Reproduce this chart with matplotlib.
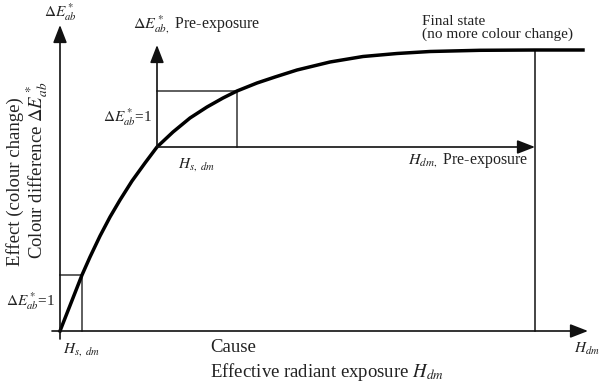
import matplotlib
matplotlib.use('Agg')
import matplotlib.pyplot as plt

plt.rcParams['font.family'] = ['Liberation Serif', 'DejaVu Serif']
plt.rcParams['mathtext.fontset'] = 'stix'

# curve (exposure vs colour difference, arbitrary units)
exposure = [0, 22, 30, 40, 50, 60, 72, 85, 97, 113, 130, 147, 163, 177, 197, 215, 237, 270, 303, 337, 370, 420, 475, 523]
colour_diff = [0, 56, 74, 95, 114, 131, 150, 168, 184, 199, 213, 224, 233, 240, 248, 254, 261, 269, 274.5, 277.5, 279.5, 280.7, 281, 281]

# first step (from unexposed state)
hs_step = 22
de_step = 56
# second step (after pre-exposure)
pre_x0, pre_y0 = 97, 184
pre_dx, pre_dy = 80, 56
# final state
final_x, final_y = 475, 281
# axis extents
x_end, y_end = 528, 306
pre_x_end, pre_y_end = 475, 286

ink = '#111111'
box = '#333333'

fig = plt.figure(figsize=(6, 3.89), dpi=100)
ax = fig.add_axes([0, 0, 1, 1])
ax.set_xlim(-60, 540)
ax.set_ylim(-58, 331)
ax.axis('off')


def arrow(x0, y0, x1, y1):
    ax.annotate('', xy=(x1, y1), xytext=(x0, y0),
                arrowprops=dict(arrowstyle='-|>,head_length=0.9,head_width=0.35',
                                color=ink, lw=1.2, shrinkA=0, shrinkB=0,
                                mutation_scale=12))


# main axes
arrow(-8, 0, x_end, 0)
arrow(0, -8, 0, y_end)
# pre-exposure axes
arrow(pre_x0, pre_y0, pre_x_end, pre_y0)
arrow(pre_x0, pre_y0, pre_x0, pre_y_end)

# step boxes
ax.plot([hs_step, hs_step, 0], [0, de_step, de_step], color=box, lw=1.1)
ax.plot([pre_x0 + pre_dx, pre_x0 + pre_dx, pre_x0], [pre_y0, pre_y0 + pre_dy, pre_y0 + pre_dy], color=box, lw=1.1)

# final state line
ax.plot([final_x, final_x], [0, final_y], color=ink, lw=1.1)

# curve
ax.plot(exposure, colour_diff, color='black', lw=2.5, solid_joinstyle='round')

tc = '#222222'
ax.text(0, 319, r'$\Delta E^*_{ab}$', ha='center', va='center', fontsize=11, color=tc)
ax.text(73, 306, r'$\Delta E^*_{ab,}$ Pre-exposure', ha='left', va='center', fontsize=11.5, color=tc)
ax.text(92, 214, r'$\Delta E^*_{ab}$=1', ha='right', va='center', fontsize=11, color=tc)
ax.text(-5, 30, r'$\Delta E^*_{ab}$=1', ha='right', va='center', fontsize=11, color=tc)
ax.text(3, -19, r'$H_{s,\ dm}$', ha='left', va='center', fontsize=11, color=tc)
ax.text(118, 166, r'$H_{s,\ dm}$', ha='left', va='center', fontsize=11, color=tc)
ax.text(468, 170, r'$H_{dm,}$ Pre-exposure', ha='right', va='center', fontsize=11.5, color=tc)
ax.text(362, 303, 'Final state\n(no more colour change)', ha='left', va='center',
        fontsize=11, color=tc, linespacing=0.9)
ax.text(150, -16, 'Cause', ha='left', va='center', fontsize=13.5, color=tc)
ax.text(150, -41, r'Effective radiant exposure $H_{dm}$', ha='left', va='center', fontsize=13.5, color=tc)
ax.text(527, -18, r'$H_{dm}$', ha='center', va='center', fontsize=11, color=tc)
ax.text(-45, 149, 'Effect (colour change)', ha='center', va='center', rotation=90, fontsize=13.5, color=tc)
ax.text(-23, 161, r'Colour difference $\Delta E^*_{ab}$', ha='center', va='center', rotation=90, fontsize=13.5, color=tc)

fig.savefig('out.png', dpi=100)
